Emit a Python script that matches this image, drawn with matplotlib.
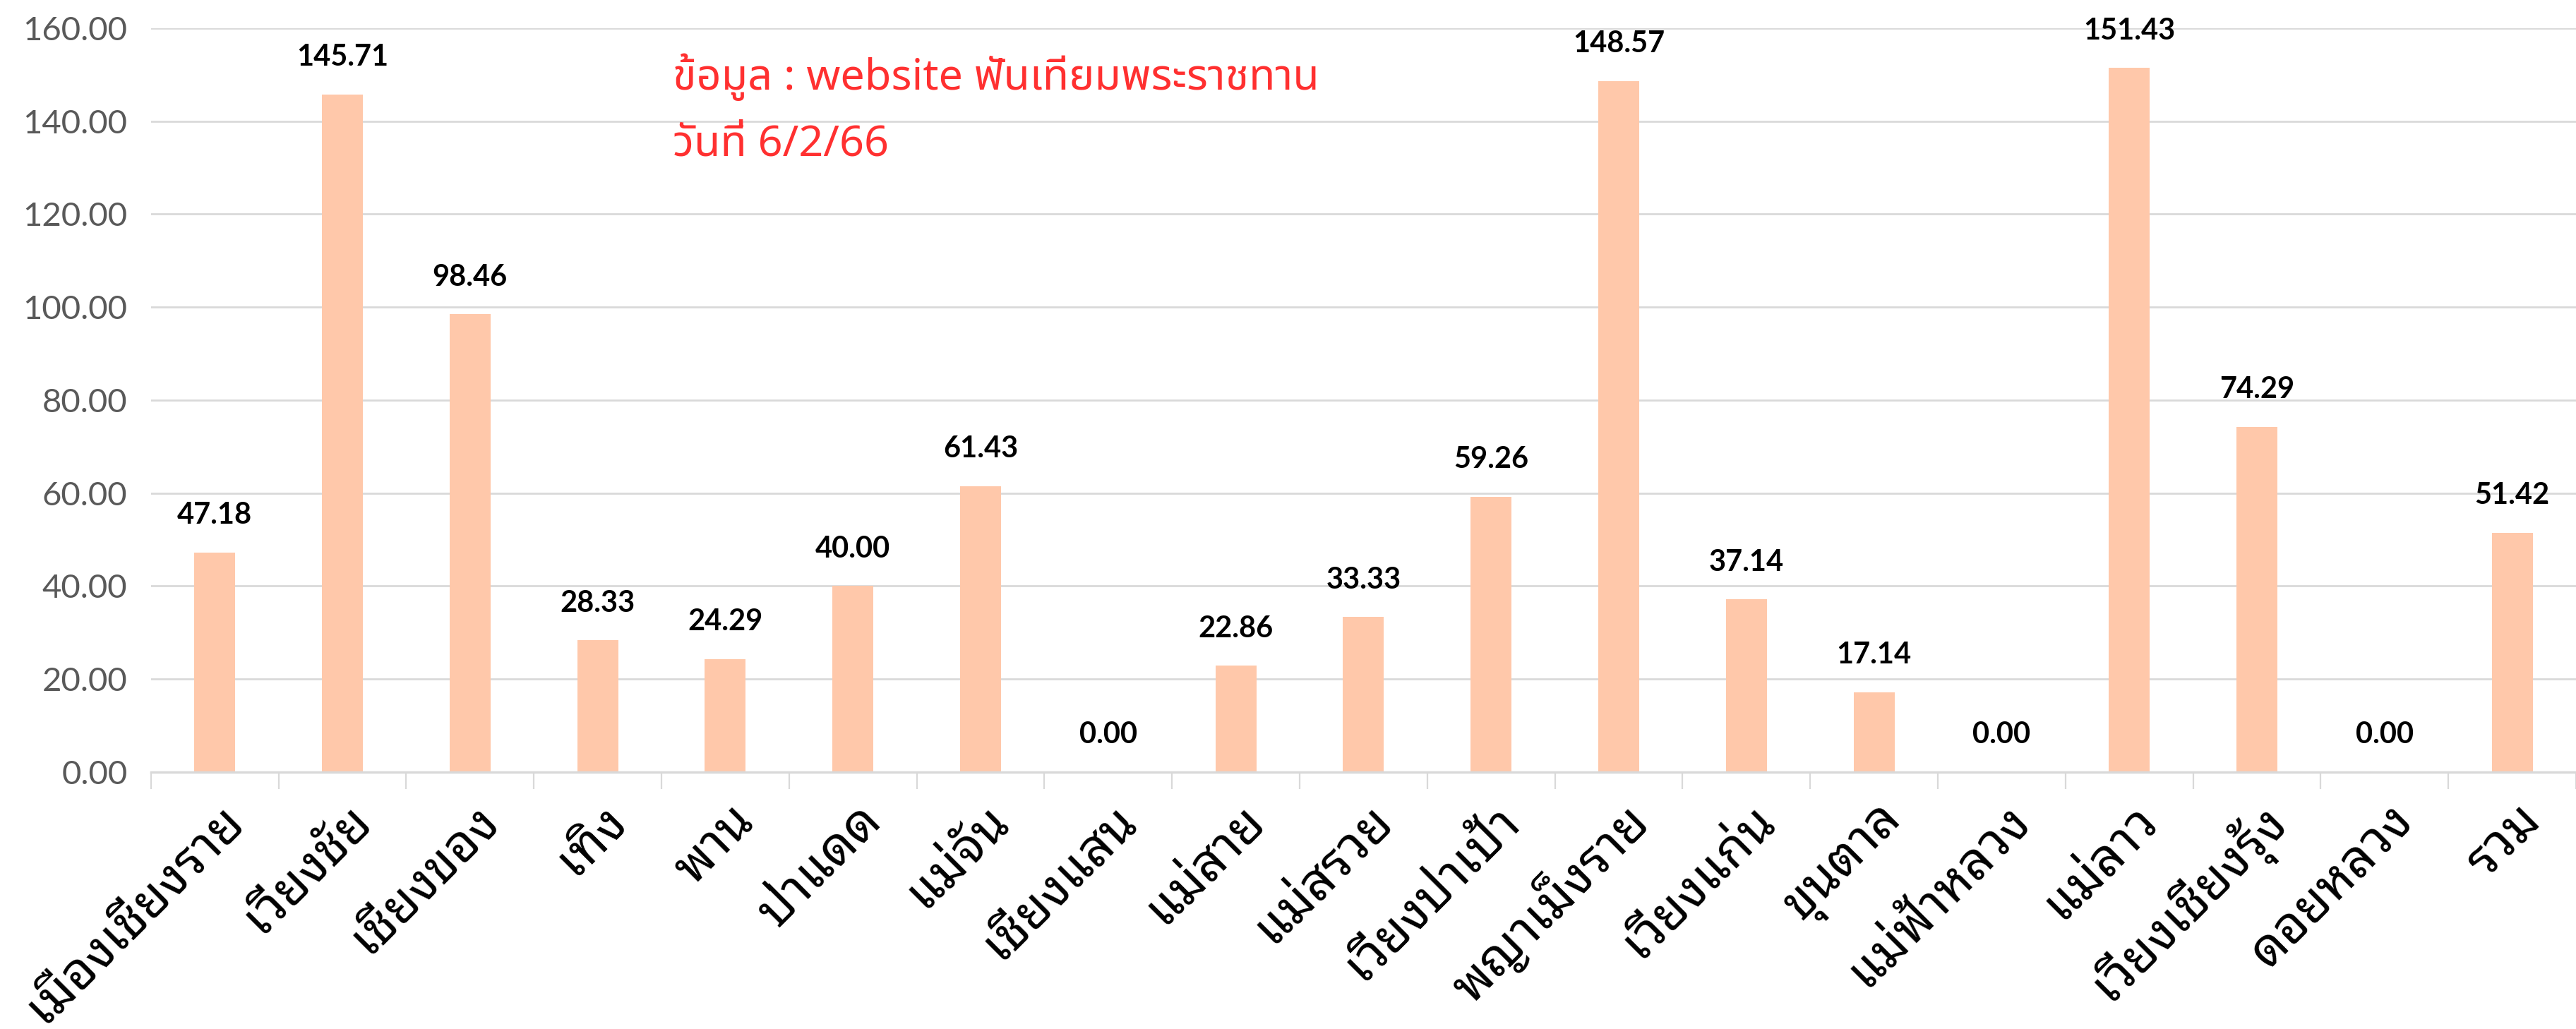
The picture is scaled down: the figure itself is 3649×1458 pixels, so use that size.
import matplotlib
matplotlib.use("Agg")
import matplotlib.pyplot as plt
import matplotlib.transforms as mtransforms
import numpy as np

# districts (อำเภอ) and values
districts = ['เมืองเชียงราย', 'เวียงชัย', 'เชียงของ', 'เทิง', 'พาน', 'ป่าแดด',
             'แม่จัน', 'เชียงแสน', 'แม่สาย', 'แม่สรวย', 'เวียงป่าเป้า',
             'พญาเม็งราย', 'เวียงแก่น', 'ขุนตาล', 'แม่ฟ้าหลวง', 'แม่ลาว',
             'เวียงเชียงรุ้ง', 'ดอยหลวง', 'รวม']
values = [47.18, 145.71, 98.46, 28.33, 24.29, 40.00, 61.43, 0.00, 22.86,
          33.33, 59.26, 148.57, 37.14, 17.14, 0.00, 151.43, 74.29, 0.00, 51.42]
yticks = [0, 20, 40, 60, 80, 100, 120, 140, 160]
note_lines = ['ข้อมูล : website ฟันเทียมพระราชทาน', 'วันที่ 6/2/66']

thai_label = ["Noto Sans Thai Looped", "Loma", "DejaVu Sans"]
thai_note = ["Noto Sans Thai", "DejaVu Sans"]
num_font = "Lato"

bar_color = "#FFC8AA"
grid_color = "#D9D9D9"

fig = plt.figure(figsize=(36.49, 14.58), dpi=100)
ax = fig.add_axes([0.0586, 0.2497, 0.9414, 0.7229])

x = np.arange(len(districts))
bars = ax.bar(x, values, width=0.32, color=bar_color, zorder=2)

ax.set_xlim(-0.5, len(districts) - 0.5)
ax.set_ylim(0, 160)
ax.set_yticks(yticks)
ax.set_yticklabels([f"{v:.2f}" for v in yticks], fontsize=34,
                   color="#595959", family=num_font)
ax.tick_params(axis="y", length=0, pad=24)
ax.yaxis.grid(True, color=grid_color, linewidth=2.0, zorder=0)
ax.set_axisbelow(True)

for s in ["left", "right", "top"]:
    ax.spines[s].set_visible(False)
ax.spines["bottom"].set_color(grid_color)
ax.spines["bottom"].set_linewidth(2.5)

# category labels, tick marks sit between categories
ax.set_xticks(x)
ax.set_xticklabels(districts, rotation=45, ha="right", va="center",
                   rotation_mode="anchor", fontsize=52, family=thai_label)
ax.tick_params(axis="x", which="major", length=0, pad=42)
shift = mtransforms.ScaledTranslation(30 / 100, 0, fig.dpi_scale_trans)
for lbl in ax.get_xticklabels():
    lbl.set_transform(lbl.get_transform() + shift)
ax.set_xticks(np.arange(len(districts) + 1) - 0.5, minor=True)
ax.tick_params(axis="x", which="minor", length=17, width=1.6, color=grid_color,
               direction="out")

# value labels
for rect, v in zip(bars, values):
    ax.annotate(f"{v:.2f}", (rect.get_x() + rect.get_width() / 2, v),
                xytext=(0, 38), textcoords="offset points", ha="center",
                va="center", fontsize=30, fontweight="bold", family=num_font,
                color="black")

# source note
ax.text(3.59, 149.5, note_lines[0], fontsize=44, color="#FF3030",
        family=thai_note, va="center", ha="left")
ax.text(3.59, 135.0, note_lines[1], fontsize=44, color="#FF3030",
        family=thai_note, va="center", ha="left")

fig.savefig("out.png", dpi=100)
